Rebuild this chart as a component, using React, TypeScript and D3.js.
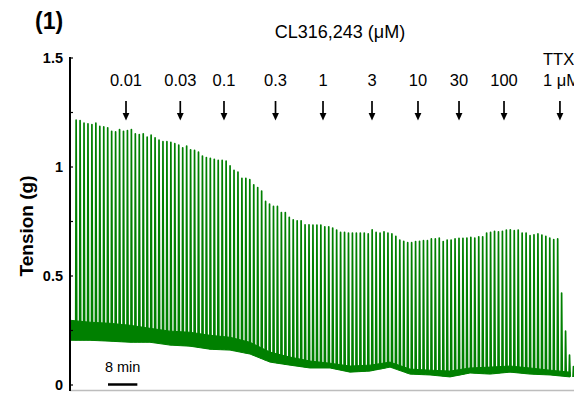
import React from "react";
import * as d3 from "d3";

// peak tension (g) of each evoked contraction, in order
const peaks: number[] = [
  1.215, 1.213, 1.201, 1.198, 1.195, 1.201, 1.186, 1.184, 1.18, 1.164,
  1.161, 1.172, 1.164, 1.167, 1.172, 1.152, 1.149, 1.152, 1.137, 1.146,
  1.134, 1.123, 1.116, 1.116, 1.113, 1.107, 1.1, 1.088, 1.096, 1.079,
  1.076, 1.068, 1.05, 1.043, 1.04, 1.035, 1.03, 1.03, 1.027, 1.005,
  0.985, 0.977, 0.948, 0.948, 0.942, 0.918, 0.906, 0.89, 0.842, 0.83,
  0.819, 0.819, 0.791, 0.791, 0.769, 0.758, 0.753, 0.753, 0.735, 0.735,
  0.734, 0.734, 0.734, 0.726, 0.726, 0.72, 0.711, 0.7, 0.7, 0.697,
  0.697, 0.697, 0.697, 0.697, 0.693,
  0.712, 0.7, 0.697, 0.703, 0.697, 0.693, 0.682, 0.665, 0.659, 0.653,
  0.653, 0.658, 0.659, 0.662, 0.662, 0.67, 0.67, 0.674, 0.658, 0.665,
  0.665, 0.67, 0.673, 0.673, 0.674,
  0.677, 0.674, 0.68, 0.68, 0.697, 0.7, 0.705, 0.703, 0.705, 0.711,
  0.712, 0.708, 0.711, 0.697, 0.697, 0.685, 0.689, 0.693, 0.688, 0.682,
  0.674, 0.667, 0.67, 0.422, 0.247, 0.137, 0.084,
];
const firstSpike = 1.55; // min
const spikePeriod = 1.0755; // min between stimuli

// baseline (noisy resting tension) envelope
const baseTimes = [
  0, 5.45, 10.9, 16.35, 21.8, 27.25, 32.7, 38.15, 43.6, 49.05, 54.5, 59.95,
  65.4, 70.85, 76.3, 81.75, 87.2, 92.65, 98.1, 103.55, 109, 114.45, 119.9,
  125.35, 130.8, 136.25,
];
const baseUpper = [
  0.297, 0.288, 0.283, 0.274, 0.26, 0.247, 0.242, 0.228, 0.219, 0.196, 0.151,
  0.128, 0.11, 0.1, 0.087, 0.091, 0.105, 0.073, 0.068, 0.064, 0.078, 0.082,
  0.087, 0.078, 0.068, 0.059,
];
const baseLower = [
  0.205, 0.205, 0.201, 0.196, 0.196, 0.183, 0.178, 0.164, 0.16, 0.142, 0.105,
  0.091, 0.078, 0.078, 0.059, 0.064, 0.082, 0.05, 0.046, 0.037, 0.055, 0.05,
  0.059, 0.05, 0.046, 0.037,
];

// drug additions
const doseTimes = [15.26, 30.05, 41.96, 56.0, 68.94, 82.29, 94.82, 106.0, 118.26];
const doseLabels = ["0.01", "0.03", "0.1", "0.3", "1", "3", "10", "30", "100"];
const ttxTime = 133.5;

const yTicks = [0, 0.5, 1, 1.5];
const yMinorTicks = [0, 0.25, 0.5, 0.75, 1, 1.25, 1.5];

const W = 574;
const H = 393;
const green = "#008000";
const font = "'Liberation Sans', Arial, sans-serif";

export default function App() {
  const x = d3.scaleLinear().domain([0, 137.33]).range([70, 574]);
  const y = d3.scaleLinear().domain([0, 1.5]).range([385, 58]);

  const lowAt = d3.scaleLinear().domain(baseTimes).range(baseLower).clamp(true);

  const area = d3
    .area<number>()
    .x((_, i) => x(baseTimes[i]))
    .y0((_, i) => y(baseLower[i]))
    .y1((_, i) => y(baseUpper[i]));

  const spikePath = (p: number, i: number) => {
    const t = firstSpike + i * spikePeriod;
    const b = lowAt(t);
    return `M${x(t)},${y(b)}L${x(t + 0.12)},${y(p)}L${x(t + 0.3)},${y(b)}`;
  };

  const arrow = (t: number, key: string) => {
    const cx = x(t);
    return (
      <g key={key}>
        <line x1={cx} x2={cx} y1={101} y2={115} stroke="#000" strokeWidth={1.7} />
        <path d={`M${cx - 3.4},${113}L${cx + 3.4},${113}L${cx},${120.5}Z`} fill="#000" />
      </g>
    );
  };

  return (
    <svg
      width={W}
      height={H}
      style={{ position: "absolute", left: 0, top: 0, background: "#fff" }}
      fontFamily={font}
    >
      <text x={35} y={29} fontSize={23} fontWeight="bold">(1)</text>
      <text x={340} y={38} fontSize={18} textAnchor="middle">CL316,243 (μM)</text>

      {doseTimes.map((t, i) => (
        <text key={"l" + i} x={x(t)} y={86} fontSize={16.5} textAnchor="middle">
          {doseLabels[i]}
        </text>
      ))}
      <text x={543} y={65} fontSize={16.5}>TTX</text>
      <text x={543} y={86} fontSize={16.5}>1 μM</text>

      {doseTimes.map((t, i) => arrow(t, "a" + i))}
      {arrow(ttxTime, "ttx")}

      {/* trace */}
      <path d={area(baseTimes) || ""} fill={green} stroke={green} strokeWidth={1} />
      {peaks.map((p, i) => (
        <path
          key={"s" + i}
          d={spikePath(p, i)}
          fill="none"
          stroke={green}
          strokeWidth={1.7}
          strokeLinejoin="round"
        />
      ))}

      {/* axes */}
      <line x1={70} x2={574} y1={390.5} y2={390.5} stroke="#bdbdbd" strokeWidth={1.5} />
      <line x1={70} x2={70} y1={57} y2={391} stroke="#000" strokeWidth={2} />
      {yMinorTicks.map((v) => (
        <line key={"t" + v} x1={70} x2={73} y1={y(v)} y2={y(v)} stroke="#000" strokeWidth={1.2} />
      ))}
      {yTicks.map((v) => (
        <text key={"y" + v} x={63} y={y(v) + 5} fontSize={14.5} fontWeight="bold" textAnchor="end">
          {d3.format("~g")(v)}
        </text>
      ))}
      <text
        transform={`translate(33,226) rotate(-90)`}
        fontSize={19}
        fontWeight="bold"
        textAnchor="middle"
      >
        Tension (g)
      </text>

      {/* scale bar */}
      <text x={x(14.35)} y={372} fontSize={14.5} textAnchor="middle">8 min</text>
      <line x1={x(10.35)} x2={x(18.35)} y1={384.5} y2={384.5} stroke="#000" strokeWidth={2.5} />
    </svg>
  );
}
